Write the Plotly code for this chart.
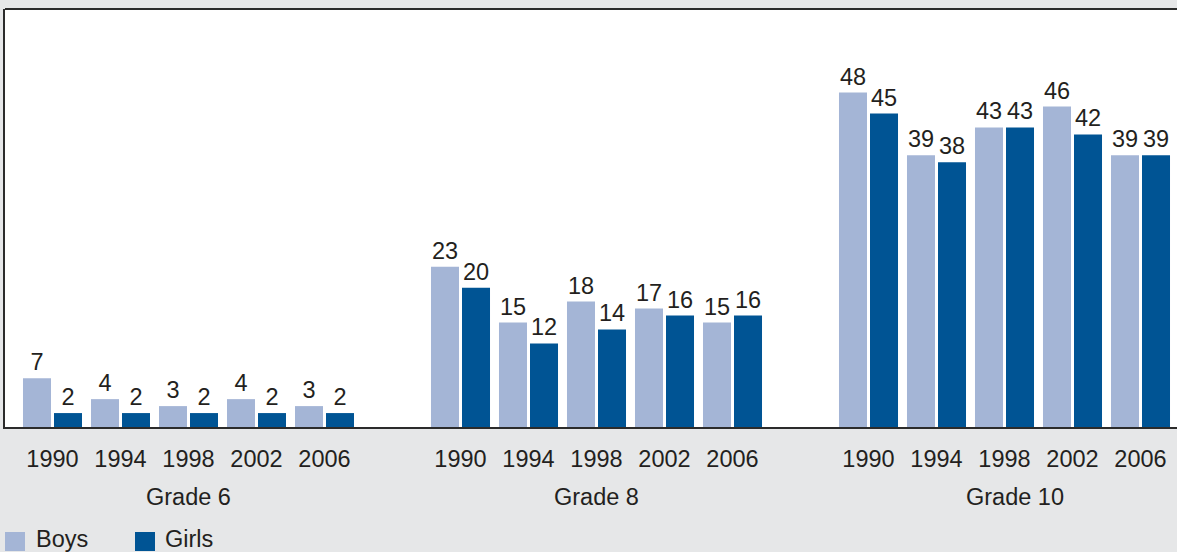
import plotly.graph_objects as go

# Survey years and grades
years = ["1990", "1994", "1998", "2002", "2006"]
grades = ["Grade 6", "Grade 8", "Grade 10"]

# Percentages by grade, one value per survey year
boys_g6 = [7, 4, 3, 4, 3]
girls_g6 = [2, 2, 2, 2, 2]
boys_g8 = [23, 15, 18, 17, 15]
girls_g8 = [20, 12, 14, 16, 16]
boys_g10 = [48, 39, 43, 46, 39]
girls_g10 = [45, 38, 43, 42, 39]

BOYS_COLOR = "#a4b5d6"
GIRLS_COLOR = "#005494"
TEXT_COLOR = "#231f20"
LINE_COLOR = "#2b2b2b"
BG = "#e6e7e8"
FONT = "Liberation Sans, Arial, Helvetica, sans-serif"
FS = 23.5

# Each grade occupies five year slots, with one empty slot between grades
group_start = [0, 6, 12]
slots = []
tick_text = []
for g in group_start:
    for i, y in enumerate(years):
        slots.append(g + i)
        tick_text.append(y)

boys = boys_g6 + boys_g8 + boys_g10
girls = girls_g6 + girls_g8 + girls_g10

BAR_W = 0.412
fig = go.Figure()
fig.add_trace(go.Bar(
    x=slots, y=boys, name="Boys", marker_color=BOYS_COLOR, marker_line_width=0,
    width=BAR_W, offset=-0.434,
    text=[str(v) for v in boys], textposition="outside", cliponaxis=False,
    constraintext="none", textfont=dict(size=FS, color=TEXT_COLOR, family=FONT),
))
fig.add_trace(go.Bar(
    x=slots, y=girls, name="Girls", marker_color=GIRLS_COLOR, marker_line_width=0,
    width=BAR_W, offset=0.022,
    text=[str(v) for v in girls], textposition="outside", cliponaxis=False,
    constraintext="none", textfont=dict(size=FS, color=TEXT_COLOR, family=FONT),
))

W, H = 1177, 552
L, R, T, B = 5, 0, 9, 125
PW, PH = W - L - R, H - T - B
SLOT_PX = 68.0
X0 = -(52.5 - L) / SLOT_PX
X1 = X0 + PW / SLOT_PX


def px_x(p):
    return (p - L) / PW


def px_y(p):
    return (H - B - p) / PH


annotations = []
grade_centers = [2, 8, 14.15]
for name, cx in zip(grades, grade_centers):
    annotations.append(dict(
        x=cx, xref="x", y=px_y(497.5), yref="paper", text=name, showarrow=False,
        xanchor="center", yanchor="middle",
        font=dict(size=FS, color=TEXT_COLOR, family=FONT),
    ))

# Frame: top edge of the plotting area (left and bottom come from the axes)
shapes = [dict(
    type="line", xref="paper", yref="paper", x0=0, x1=1, y0=1, y1=1,
    line=dict(color=LINE_COLOR, width=2), layer="above",
)]

# Legend drawn as swatches and labels under the chart
legend_items = [("Boys", BOYS_COLOR, 5, 34), ("Girls", GIRLS_COLOR, 135, 163)]
for label, color, sx, tx in legend_items:
    shapes.append(dict(
        type="rect", xref="paper", yref="paper",
        x0=px_x(sx), x1=px_x(sx + 20), y0=px_y(532), y1=px_y(551),
        fillcolor=color, line_width=0, layer="above",
    ))
    annotations.append(dict(
        x=px_x(tx), xref="paper", y=px_y(539), yref="paper", text=label,
        showarrow=False, xanchor="left", yanchor="middle",
        font=dict(size=FS, color=TEXT_COLOR, family=FONT),
    ))

fig.update_layout(
    width=W, height=H,
    margin=dict(l=L, r=R, t=T, b=B, pad=0),
    paper_bgcolor=BG, plot_bgcolor="white",
    barmode="overlay", showlegend=False,
    font=dict(family=FONT, color=TEXT_COLOR, size=FS),
    annotations=annotations, shapes=shapes,
)
fig.update_xaxes(
    range=[X0, X1], tickmode="array", tickvals=slots, ticktext=tick_text,
    showgrid=False, zeroline=False, showline=True, mirror=False,
    linecolor=LINE_COLOR, linewidth=2, ticks="", ticklabelstandoff=10,
    tickfont=dict(size=FS, color=TEXT_COLOR, family=FONT),
)
fig.update_yaxes(
    range=[0, 60], showgrid=False, zeroline=False, showticklabels=False,
    showline=True, linecolor=LINE_COLOR, linewidth=2, ticks="",
)

fig.write_html("out.html", config={"displayModeBar": False})
